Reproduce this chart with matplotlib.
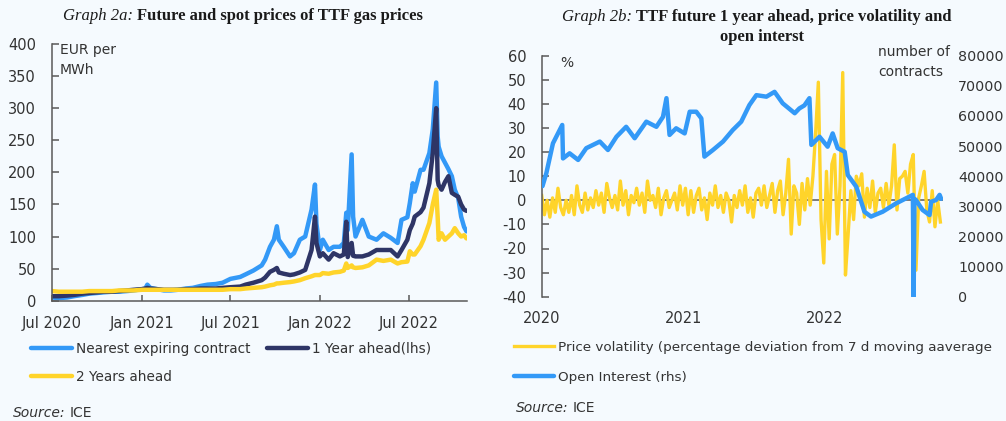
import pandas as pd
import matplotlib
matplotlib.use("Agg")
import matplotlib.pyplot as plt
import matplotlib.dates as mdates

# ---- Graph 2a data: TTF gas prices, EUR per MWh ----
dates_a = ["2020-07-01", "2020-07-15", "2020-08-01", "2020-08-15", "2020-09-01", "2020-09-15",
           "2020-10-01", "2020-10-15", "2020-11-01", "2020-11-15", "2020-12-01", "2020-12-15",
           "2021-01-01", "2021-01-08", "2021-01-12", "2021-01-18", "2021-02-01", "2021-02-15",
           "2021-03-01", "2021-03-15", "2021-04-01", "2021-04-15", "2021-05-01", "2021-05-15",
           "2021-06-01", "2021-06-15", "2021-07-01", "2021-07-21", "2021-08-01", "2021-08-17",
           "2021-09-03", "2021-09-10", "2021-09-20", "2021-09-28", "2021-10-04", "2021-10-08",
           "2021-10-18", "2021-10-31", "2021-11-08", "2021-11-20", "2021-12-01", "2021-12-14",
           "2021-12-21", "2021-12-24", "2021-12-31", "2022-01-06", "2022-01-18", "2022-01-28",
           "2022-02-10", "2022-02-18", "2022-02-23", "2022-02-26", "2022-03-06", "2022-03-09",
           "2022-03-14", "2022-03-28", "2022-04-10", "2022-04-26", "2022-05-10", "2022-05-25",
           "2022-06-08", "2022-06-16", "2022-06-28", "2022-07-03", "2022-07-09", "2022-07-13",
           "2022-07-25", "2022-07-31", "2022-08-12", "2022-08-19", "2022-08-26", "2022-08-29",
           "2022-08-31", "2022-09-06", "2022-09-13", "2022-09-20", "2022-09-27", "2022-10-03",
           "2022-10-10", "2022-10-16", "2022-10-22", "2022-10-27"]
nearest = [5, 4, 5, 7, 9, 11, 12, 13, 14, 14, 15, 16,
           18, 19, 25, 20, 18, 16, 16, 17, 19, 20, 23, 25,
           26, 28, 34, 37, 41, 47, 55, 64, 84, 95, 116, 95,
           84, 69, 74, 95, 100, 142, 181, 120, 79, 95, 79, 84,
           84, 90, 137, 110, 228, 131, 100, 126, 100, 95, 105, 98,
           90, 126, 130, 152, 183, 170, 204, 204, 230, 267, 340, 256,
           240, 225, 215, 205, 194, 173, 160, 131, 115, 108]
year1 = [7, 7, 8, 9, 11, 12, 13, 14, 14, 15, 16, 17,
         18, 19, 20, 19, 18, 17, 17, 17, 18, 18, 19, 19,
         19, 20, 21, 22, 25, 28, 32, 36, 45, 48, 51, 44,
         42, 40, 41, 44, 48, 79, 131, 90, 69, 74, 64, 74,
         69, 72, 123, 68, 90, 70, 69, 69, 72, 79, 79, 79,
         69, 79, 95, 110, 120, 131, 138, 145, 183, 230, 300, 188,
         180, 173, 185, 194, 168, 165, 162, 150, 142, 140]
year2 = [15, 14, 14, 14, 14, 15, 15, 15, 15, 16, 16, 16,
         17, 17, 17, 17, 17, 17, 17, 17, 17, 17, 17, 17,
         17, 17, 18, 18, 19, 20, 21, 22, 24, 25, 27, 27,
         28, 29, 30, 32, 35, 38, 40, 40, 40, 43, 42, 44,
         45, 47, 58, 51, 55, 52, 51, 52, 55, 64, 62, 64,
         58, 60, 61, 77, 72, 72, 85, 95, 121, 150, 173, 130,
         95, 105, 95, 100, 105, 113, 105, 100, 102, 97]
labels_a = ["Nearest expiring contract", "1 Year ahead(lhs)", "2 Years ahead"]

# ---- Graph 2b data ----
# weekly price volatility (%), starting 2020-01-01
volatility = [2, -6, 0, -7, 1, -5, 5, -3, -6, 0, -5, 2, -6, 6, -2, -5, 3, -4, 1, -3,
              4, -2, 3, -5, 7, 1, -3, 2, -4, 8, -2, 4, -6, 2, -1, 5, -2, 3, -5, 8,
              0, 2, -3, 5, -6, 1, 4, -3, 0, 3, -4, 6,
              -2, 5, -6, 4, -5, 2, 5, -4, 1, -8, 3, -2, 6, -3, 2, -5, 3, 0,
              -9, 2, -3, 4, -2, 6, -5, 1, -7, 3, 5, -2, 6, -3, 2, 7, -5,
              4, 8, -6, 3, 17, -14, 6, 3, -10, 7, -4, 9, -2, 10, 28, 49, -8, -26,
              12, -16, 15, 19, -14, 6, 53, -31, -14, 4, -8, 10, 6, 11, -7, 5,
              -3, 8, -5, 3, 5, -3, 7, -2, 6, 23, -4, 9, 10, 12, 3, 15, 19, -29,
              1, 6, 12, -4, -9, 4, -11, 0, -9]
oi_dates = ["2020-01-03", "2020-01-13", "2020-01-30", "2020-02-23", "2020-02-25", "2020-03-13",
            "2020-04-04", "2020-04-25", "2020-05-30", "2020-06-20", "2020-07-12", "2020-08-06",
            "2020-08-28", "2020-09-27", "2020-10-23", "2020-11-09", "2020-11-18", "2020-11-26",
            "2020-12-13", "2021-01-04", "2021-01-17", "2021-02-03", "2021-02-16", "2021-02-24",
            "2021-03-18", "2021-04-13", "2021-05-08", "2021-05-30", "2021-06-20", "2021-07-08",
            "2021-08-03", "2021-08-24", "2021-09-14", "2021-10-15", "2021-10-27", "2021-11-09",
            "2021-11-22", "2021-11-27", "2021-12-18", "2022-01-08", "2022-01-21", "2022-02-03",
            "2022-02-21", "2022-03-01", "2022-03-23", "2022-04-13", "2022-04-30", "2022-05-30",
            "2022-07-04", "2022-08-16", "2022-08-18", "2022-08-20", "2022-08-24", "2022-09-10",
            "2022-09-28", "2022-10-02", "2022-10-15", "2022-10-24", "2022-10-28"]
open_interest = [36700, 41000, 50900, 57000, 45900, 47600,
                 45400, 49300, 51500, 48700, 53100, 56400,
                 52600, 58100, 56400, 59700, 65900, 53700,
                 55900, 54200, 61400, 61400, 59200, 46500,
                 48700, 51500, 55300, 58100, 63600, 66900,
                 66400, 68000, 64200, 60900, 62500, 63500,
                 65900, 50400, 53100, 49800, 54200, 49300,
                 48100, 40400, 36500, 28200, 26600, 28200,
                 31000, 33800, 0, 32500, 32100, 28800,
                 27100, 31500, 32100, 33800, 32500]
labels_b = ["Price volatility (percentage deviation from 7 d moving aaverage",
            "Open Interest (rhs)"]

BG = "#F5FAFE"
LIGHT_BLUE = "#3399F7"
NAVY = "#2E3566"
YELLOW = "#FFD42A"
AXIS = "#595959"
TEXT = "#333333"
TITLE = "#1A1A1A"

plt.rcParams["font.family"] = ["DejaVu Sans"]
plt.rcParams["font.size"] = 10
plt.rcParams["axes.unicode_minus"] = False
plt.rcParams["text.color"] = TEXT
plt.rcParams["xtick.color"] = AXIS
plt.rcParams["ytick.color"] = AXIS
plt.rcParams["xtick.labelcolor"] = TEXT
plt.rcParams["ytick.labelcolor"] = TEXT

W, H = 1006, 421
fig = plt.figure(figsize=(W / 100, H / 100), dpi=100, facecolor=BG)


def px(x, y):
    return x / W, 1 - y / H


# ---------------- Graph 2a ----------------
ax = fig.add_axes([52 / W, 1 - 300.7 / H, 415 / W, 256.7 / H], facecolor=BG)
da = pd.to_datetime(dates_a)
l1, = ax.plot(da, nearest, color=LIGHT_BLUE, lw=3.2, solid_capstyle="round")
l2, = ax.plot(da, year1, color=NAVY, lw=3.2, solid_capstyle="round")
l3, = ax.plot(da, year2, color=YELLOW, lw=3.2, solid_capstyle="round")
ax.set_ylim(0, 400)
ax.set_yticks(range(0, 401, 50))
ax.set_xlim(pd.Timestamp("2020-07-01"), pd.Timestamp("2022-10-28"))
ax.xaxis.set_major_locator(mdates.MonthLocator(bymonth=[1, 7]))
ax.xaxis.set_major_formatter(mdates.DateFormatter("%b %Y"))
for s in ["top", "right"]:
    ax.spines[s].set_visible(False)
for s in ["left", "bottom"]:
    ax.spines[s].set_color(AXIS)
    ax.spines[s].set_linewidth(1.1)
ax.tick_params(axis="y", direction="in", length=5, width=1.1, pad=11.5, labelsize=10.5)
ax.tick_params(axis="x", direction="in", length=4, width=1.1, pad=11, labelsize=10.5)

fig.text(*px(133, 16), "Graph 2a:", family="Liberation Serif", style="italic",
         fontsize=12, ha="right", va="center", color=TITLE)
fig.text(*px(137, 16), "Future and spot prices of TTF gas prices", family="Liberation Serif",
         weight="bold", fontsize=12, ha="left", va="center", color=TITLE)
fig.text(*px(60, 60), "EUR per\nMWh", fontsize=10, ha="left", va="center", linespacing=1.5)

fig.legend([l1, l3, l2], [labels_a[0], labels_a[2], labels_a[1]], ncol=2,
           loc="upper left", bbox_to_anchor=px(31, 342), frameon=False, fontsize=9.8,
           handlelength=3.0, handletextpad=0.3, columnspacing=1.2, labelspacing=1.0,
           borderaxespad=0, borderpad=0)

fig.text(*px(13, 413), "Source:", style="italic", fontsize=10, ha="left", va="center")
fig.text(*px(70, 413), "ICE", fontsize=10, ha="left", va="center")

# ---------------- Graph 2b ----------------
bx = fig.add_axes([541.7 / W, 1 - 296.7 / H, 401 / W, 241 / H], facecolor=BG)
dv = pd.date_range("2020-01-01", periods=len(volatility), freq="7D")
bx.axhline(0, color=AXIS, lw=1.1, zorder=1)
v1, = bx.plot(dv, volatility, color=YELLOW, lw=2.4, zorder=2)
bx.set_ylim(-40, 60)
bx.set_yticks(range(-40, 61, 10))
bx.set_xlim(pd.Timestamp("2020-01-01"), pd.Timestamp("2022-11-01"))
bx.xaxis.set_major_locator(mdates.YearLocator())
bx.xaxis.set_major_formatter(mdates.DateFormatter("%Y"))
for s in ["top", "right", "bottom"]:
    bx.spines[s].set_visible(False)
bx.spines["left"].set_color(AXIS)
bx.spines["left"].set_linewidth(1.1)
bx.tick_params(axis="y", direction="in", length=5, width=1.1, pad=11, labelsize=10.5)
bx.tick_params(axis="x", length=0, pad=10, labelsize=10.5)

bx2 = bx.twinx()
v2, = bx2.plot(pd.to_datetime(oi_dates), open_interest, color=LIGHT_BLUE, lw=3.2,
               solid_capstyle="round")
bx2.set_ylim(0, 80000)
bx2.set_yticks(range(0, 80001, 10000))
for s in ["top", "right", "bottom", "left"]:
    bx2.spines[s].set_visible(False)
bx2.tick_params(axis="y", length=0, pad=11, labelsize=10.3)

fig.text(*px(632, 17), "Graph 2b:", family="Liberation Serif", style="italic",
         fontsize=12, ha="right", va="center", color=TITLE)
fig.text(*px(636, 17), "TTF future 1 year ahead, price volatility and", family="Liberation Serif",
         weight="bold", fontsize=12, ha="left", va="center", color=TITLE)
fig.text(*px(762, 37), "open interst", family="Liberation Serif",
         weight="bold", fontsize=12, ha="center", va="center", color=TITLE)
fig.text(*px(560, 63), "%", fontsize=10, ha="left", va="center")
fig.text(*px(878, 62), "number of\ncontracts", fontsize=10, ha="left", va="center",
         linespacing=1.5)

fig.legend([v1, v2], labels_b, loc="upper left", bbox_to_anchor=px(514, 341),
           frameon=False, fontsize=9.7, handlelength=3.0, handletextpad=0.3,
           labelspacing=1.25, borderaxespad=0, borderpad=0)

fig.text(*px(516, 408), "Source:", style="italic", fontsize=10, ha="left", va="center")
fig.text(*px(573, 408), "ICE", fontsize=10, ha="left", va="center")

fig.savefig("out.png", dpi=100, facecolor=BG)
